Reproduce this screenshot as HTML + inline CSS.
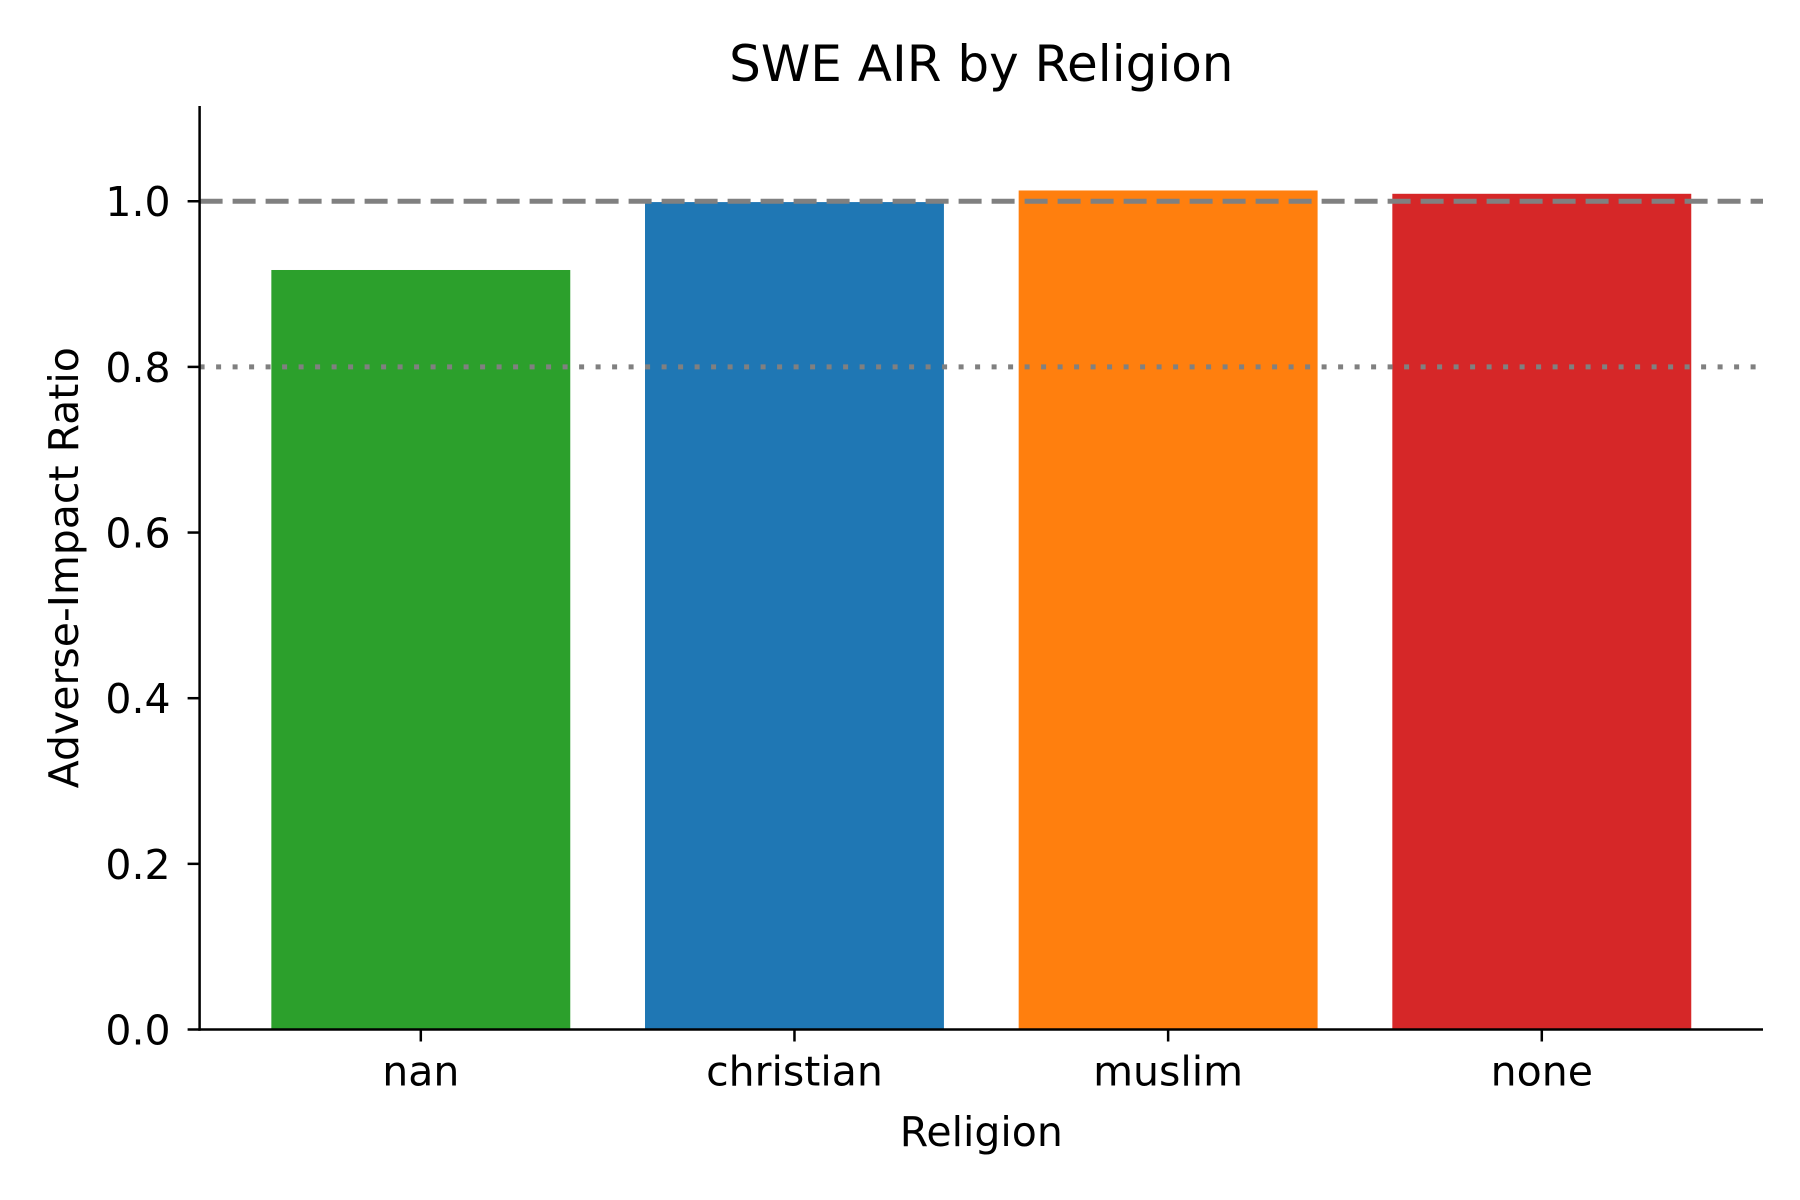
<!DOCTYPE html>
<html><head><meta charset="utf-8"><style>html,body{margin:0;padding:0;background:#fff;}svg{display:block;}</style></head>
<body>
<svg id="chart" width="1800" height="1200" xmlns="http://www.w3.org/2000/svg" font-family="DejaVu Sans, Liberation Sans, sans-serif">
<rect width="1800" height="1200" fill="#fff"/>
<g id="plot"></g>
</svg>
<script>
const categories = ["nan", "christian", "muslim", "none"];
const values = [0.917, 0.999, 1.013, 1.009];
const colors = ["#2ca02c", "#1f77b4", "#ff7f0e", "#d62728"];
const yTicks = [0.0, 0.2, 0.4, 0.6, 0.8, 1.0];
const yTickLabels = ["0.0", "0.2", "0.4", "0.6", "0.8", "1.0"];
const refLines = [1.0, 0.8];

const L = 199.6, R = 1763, T = 106, B = 1029.5;
const yMax = 1.115;
const xMin = -0.592, xMax = 3.592;
const y = v => B - v / yMax * (B - T);
const x = i => L + (i - xMin) / (xMax - xMin) * (R - L);
const NS = "http://www.w3.org/2000/svg";
const g = document.getElementById("plot");
function mk(tag, attrs, parent) {
  const e = document.createElementNS(NS, tag);
  for (const k in attrs) e.setAttribute(k, attrs[k]);
  (parent || g).appendChild(e);
  return e;
}
const bw = 0.8 * (x(1) - x(0));
categories.forEach((c, i) => {
  const r = mk("rect", {x: x(i) - bw / 2, y: y(values[i]), width: bw, height: B - y(values[i]), fill: colors[i]});
  
  
  const t = mk("line", {x1: x(i), x2: x(i), y1: B, y2: B + 12, stroke: "#000", "stroke-width": 2.5});
  
  
  const lb = mk("text", {x: x(i), y: B + 56, "text-anchor": "middle", "font-size": 41, fill: "#000"});
  lb.textContent = c;
  
  
});
refLines.forEach((v, i) => {
  const ln = mk("line", {x1: L, x2: R, y1: y(v), y2: y(v), stroke: "#808080", "stroke-width": 5,
    "stroke-dasharray": i === 0 ? "23 10" : "5 11.5"});
  
  
});
yTicks.forEach((v, i) => {
  const t = mk("line", {x1: L - 12, x2: L, y1: y(v), y2: y(v), stroke: "#000", "stroke-width": 2.5});
  
  
  const lb = mk("text", {x: L - 29, y: y(v) + 15, "text-anchor": "end", "font-size": 41, fill: "#000"});
  lb.textContent = yTickLabels[i];
  
  
});
const sl = mk("line", {x1: L, x2: L, y1: T, y2: B + 1.25, stroke: "#000", "stroke-width": 2.5});


const sb = mk("line", {x1: L - 1.25, x2: R, y1: B, y2: B, stroke: "#000", "stroke-width": 2.5});


const title = mk("text", {x: (L + R) / 2, y: 81, "text-anchor": "middle", "font-size": 50, fill: "#000"});
title.textContent = "SWE AIR by Religion";


const xl = mk("text", {x: (L + R) / 2, y: 1146, "text-anchor": "middle", "font-size": 41, fill: "#000"});
xl.textContent = "Religion";


const yl = mk("text", {x: 0, y: 0, "text-anchor": "middle", "font-size": 41, fill: "#000", transform: "translate(78," + ((T + B) / 2) + ") rotate(-90)"});
yl.textContent = "Adverse-Impact Ratio";


</script>
</body></html>
